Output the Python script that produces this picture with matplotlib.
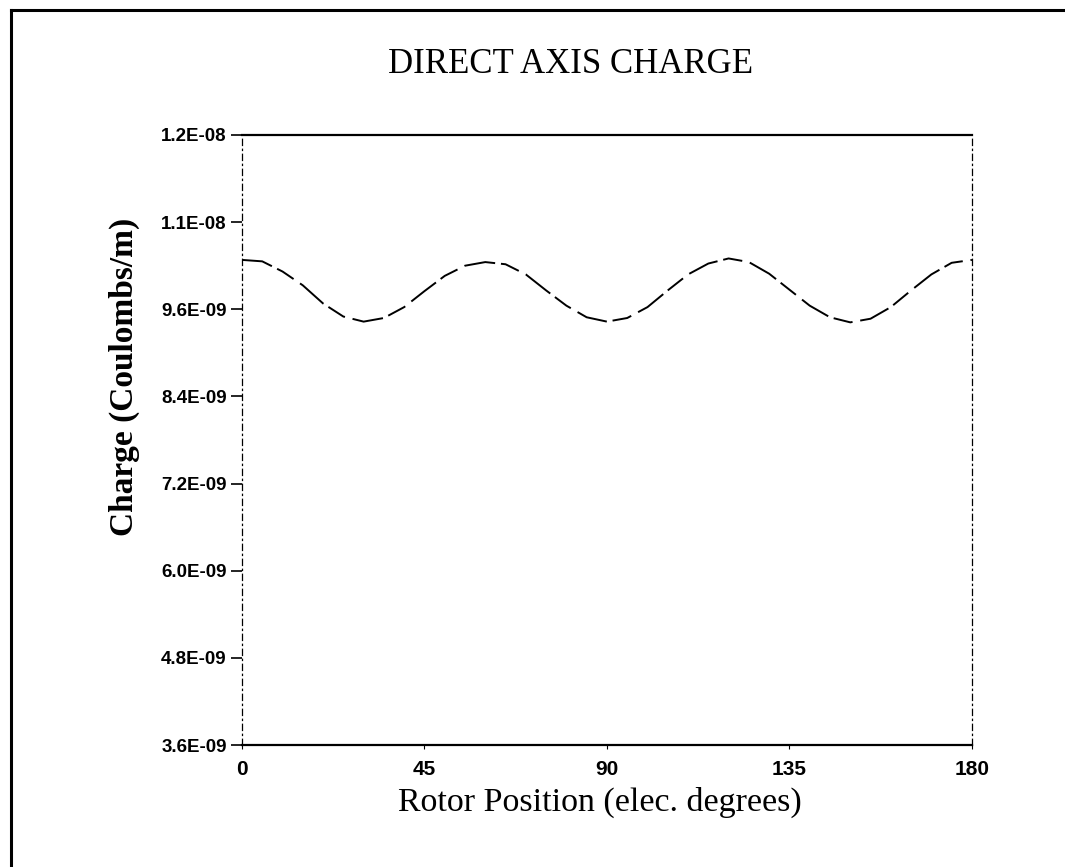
# Direct axis charge vs rotor position
import matplotlib
matplotlib.use("Agg")
import matplotlib.pyplot as plt
from matplotlib.lines import Line2D

# rotor position (elec. degrees)
posicao = [0, 5, 10, 15, 20, 25, 30, 35, 40, 45, 50, 55, 60, 65, 70, 75, 80, 85, 90,
           95, 100, 105, 110, 115, 120, 125, 130, 135, 140, 145, 150, 155, 160, 165,
           170, 175, 180]

# charge (Coulombs/m)
carga = [1.028e-08, 1.026e-08, 1.012e-08, 9.93e-09, 9.68e-09, 9.50e-09, 9.43e-09,
         9.48e-09, 9.63e-09, 9.85e-09, 1.006e-08, 1.020e-08, 1.025e-08, 1.022e-08,
         1.008e-08, 9.86e-09, 9.65e-09, 9.49e-09, 9.43e-09, 9.48e-09, 9.63e-09,
         9.86e-09, 1.008e-08, 1.023e-08, 1.030e-08, 1.025e-08, 1.009e-08, 9.87e-09,
         9.65e-09, 9.49e-09, 9.42e-09, 9.47e-09, 9.63e-09, 9.86e-09, 1.008e-08,
         1.024e-08, 1.028e-08]

yticks = [3.6e-09, 4.8e-09, 6.0e-09, 7.2e-09, 8.4e-09, 9.6e-09, 1.08e-08, 1.2e-08]
ylabels = ["3.6E-09", "4.8E-09", "6.0E-09", "7.2E-09", "8.4E-09", "9.6E-09",
           "1.1E-08", "1.2E-08"]
xticks = [0, 45, 90, 135, 180]

fig = plt.figure(figsize=(10.65, 8.67), dpi=100)
ax = fig.add_axes([0.2272, 0.1407, 0.6854, 0.7036])

ax.plot(posicao, carga, color="black", linewidth=1.4, linestyle=(0, (16, 3, 10, 4)))

ax.set_xlim(0, 180)
ax.set_ylim(3.6e-09, 1.2e-08)
ax.set_xticks(xticks)
ax.set_xticklabels([str(v) for v in xticks])
ax.set_yticks(yticks)
ax.set_yticklabels(ylabels)

for lbl in ax.get_yticklabels():
    lbl.set_fontfamily("Liberation Sans")
    lbl.set_fontweight("bold")
    lbl.set_fontsize(13.5)
for lbl in ax.get_xticklabels():
    lbl.set_fontfamily("Liberation Sans")
    lbl.set_fontweight("bold")
    lbl.set_fontsize(15)

ax.tick_params(axis="y", direction="out", length=8, width=1.2, pad=3)
ax.tick_params(axis="x", direction="out", length=3, width=0.8, pad=8)

# top and bottom solid, sides faint dash-dot
for lado in ["top", "bottom"]:
    ax.spines[lado].set_linewidth(1.6)
for lado in ["left", "right"]:
    ax.spines[lado].set_linewidth(0.9)
    ax.spines[lado].set_linestyle((0, (5, 3, 1, 3)))

fig.text(0.536, 0.926, "DIRECT AXIS CHARGE", ha="center", va="center",
         fontfamily="Liberation Serif", fontsize=25)
fig.text(0.563, 0.074, "Rotor Position (elec. degrees)", ha="center", va="center",
         fontfamily="Liberation Serif", fontsize=24.5)
fig.text(0.117, 0.565, "Charge (Coulombs/m)", ha="center", va="center",
         rotation=90, fontfamily="Liberation Serif", fontweight="bold", fontsize=24)

# page frame on the left and top
fig.add_artist(Line2D([0.0103, 0.0103], [0.0, 0.989], color="black", linewidth=2.2,
                      transform=fig.transFigure))
fig.add_artist(Line2D([0.0103, 1.0], [0.989, 0.989], color="black", linewidth=2.2,
                      transform=fig.transFigure))

fig.savefig("out.png", dpi=100)
